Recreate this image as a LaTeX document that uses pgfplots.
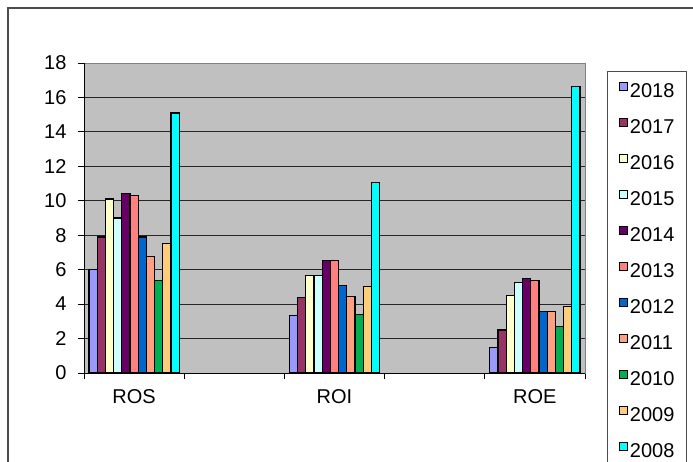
\documentclass[border=0pt]{standalone}
\usepackage{pgfplots}
\pgfplotsset{compat=1.18}
\usepackage{fontspec}
\setmainfont{Liberation Sans}

\definecolor{bggray}{HTML}{C0C0C0}
\definecolor{c2018}{HTML}{9999FF}
\definecolor{c2017}{HTML}{993366}
\definecolor{c2016}{HTML}{FFFFCC}
\definecolor{c2015}{HTML}{CCFFFF}
\definecolor{c2014}{HTML}{660066}
\definecolor{c2013}{HTML}{FF8080}
\definecolor{c2012}{HTML}{0066CC}
\definecolor{c2011}{HTML}{FFA080}
\definecolor{c2010}{HTML}{00B050}
\definecolor{c2009}{HTML}{FFCC77}
\definecolor{c2008}{HTML}{00FFFF}

% ratios per year: ROS at x=0, ROI at x=2, ROE at x=4
\pgfplotstableread{
x  y2018 y2017 y2016 y2015 y2014 y2013 y2012 y2011 y2010 y2009 y2008
0  6.0   7.9   10.1  9.0   10.4  10.3  7.9   6.75  5.35  7.5   15.1
2  3.35  4.4   5.65  5.65  6.55  6.55  5.1   4.45  3.4   5.0   11.05
4  1.5   2.5   4.5   5.25  5.5   5.35  3.55  3.55  2.7   3.85  16.65
}\ratios

\begin{document}
\begin{tikzpicture}[x=1pt,y=1pt]
\useasboundingbox (0,0) rectangle (693,461);
\clip (0,0) rectangle (693,461);
\fill[white] (0,0) rectangle (693,461);
% chart area frame
\draw[line width=1.2pt, draw=black!70] (8,453) rectangle (740,-30);

\begin{axis}[
  at={(84pt,88pt)}, anchor=south west,
  scale only axis, width=501pt, height=310pt,
  xmin=-0.5, xmax=4.5, ymin=0, ymax=18,
  ytick={0,2,...,18},
  xtick={-0.5,0.5,...,4.5}, xticklabels={},
  extra x ticks={0,2,4}, extra x tick labels={ROS,ROI,ROE},
  extra x tick style={major tick length=0pt,
    xticklabel style={yshift=-13pt}},
  xtick pos=bottom, ytick pos=left,
  tick align=outside, major tick length=6pt,
  tick style={black, line width=0.9pt},
  ymajorgrids, major grid style={black!85, line width=0.9pt},
  axis background/.style={fill=bggray},
  axis line style={draw=black!50, line width=0.9pt},
  ticklabel style={font=\fontsize{20}{20}\selectfont},
  yticklabel style={xshift=-8pt},
  /pgf/number format/assume math mode=true,
  ybar, bar width=0.0818,
  every axis plot/.append style={draw=black, line width=1.2pt},
  legend image code/.code={\draw[#1, line width=1pt] (0pt,0pt) rectangle (8pt,8pt);},
  legend style={at={(rel axis cs:1.0439,0.974)}, anchor=north west,
    draw=black!70, line width=0.8pt, fill=white,
    font=\fontsize{20}{20}\selectfont,
    inner xsep=12pt, inner ysep=11pt,
    row sep=21pt, column sep=1.5pt,
    nodes={inner sep=0pt, text height=13pt, text depth=0pt}},
  legend cell align=left,
]
\addplot[fill=c2018, bar shift=-0.409]  table[x=x, y=y2018] {\ratios};
\addplot[fill=c2017, bar shift=-0.3272] table[x=x, y=y2017] {\ratios};
\addplot[fill=c2016, bar shift=-0.2454] table[x=x, y=y2016] {\ratios};
\addplot[fill=c2015, bar shift=-0.1636] table[x=x, y=y2015] {\ratios};
\addplot[fill=c2014, bar shift=-0.0818] table[x=x, y=y2014] {\ratios};
\addplot[fill=c2013, bar shift=0]       table[x=x, y=y2013] {\ratios};
\addplot[fill=c2012, bar shift=0.0818]  table[x=x, y=y2012] {\ratios};
\addplot[fill=c2011, bar shift=0.1636]  table[x=x, y=y2011] {\ratios};
\addplot[fill=c2010, bar shift=0.2454]  table[x=x, y=y2010] {\ratios};
\addplot[fill=c2009, bar shift=0.3272]  table[x=x, y=y2009] {\ratios};
\addplot[fill=c2008, bar shift=0.409]   table[x=x, y=y2008] {\ratios};
\legend{2018,2017,2016,2015,2014,2013,2012,2011,2010,2009,2008}
% dark left and bottom axis lines
\draw[black, line width=0.9pt] (rel axis cs:0,1) -- (rel axis cs:0,0) -- (rel axis cs:1,0);
\end{axis}
\end{tikzpicture}
\end{document}
